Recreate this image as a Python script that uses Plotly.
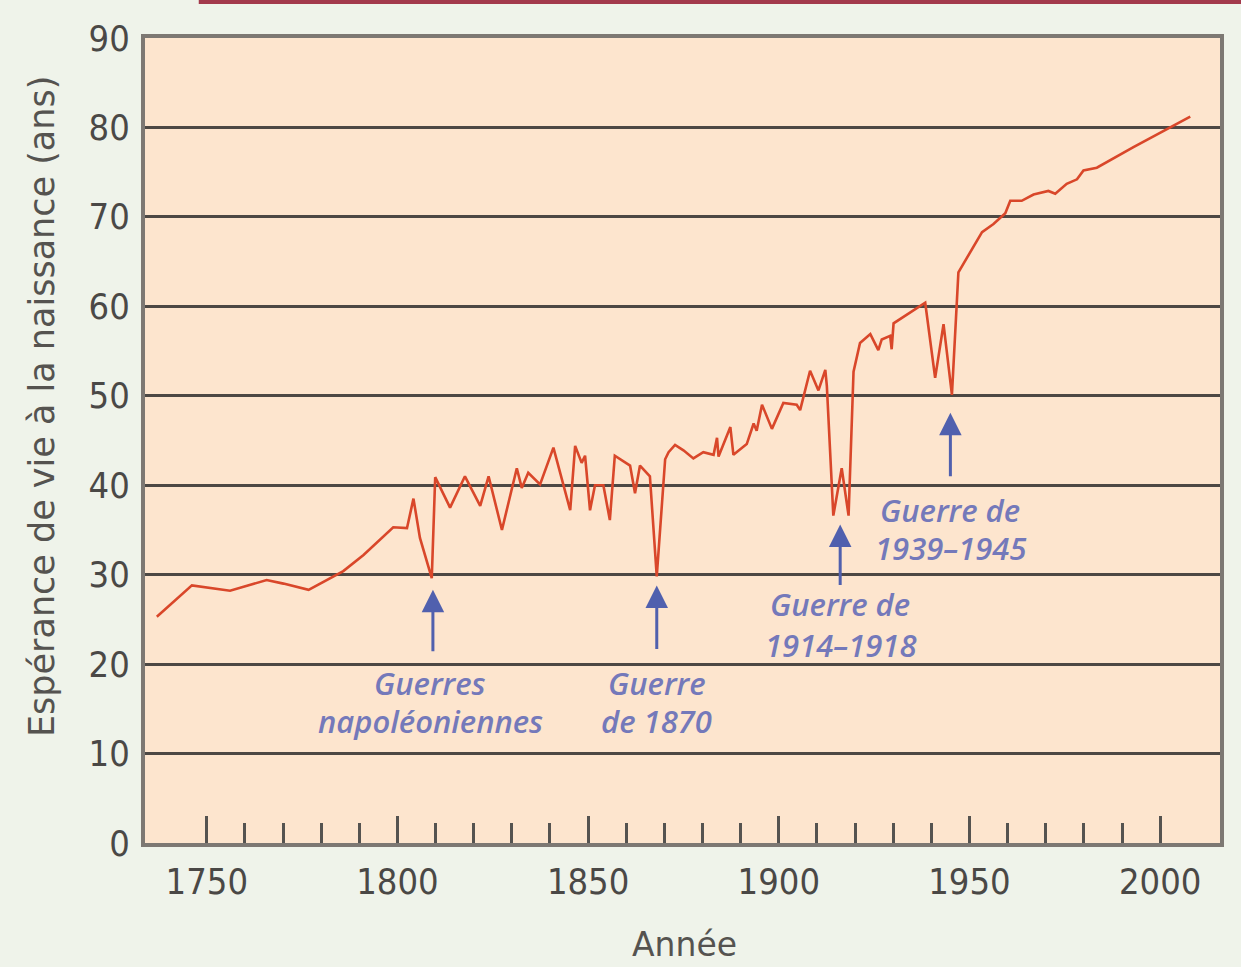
import plotly.graph_objects as go

# ---- data ----
years = [1736.9, 1746.1, 1756.1, 1765.7, 1770.1, 1776.7, 1785.8, 1791.1, 1798.9, 1802.5,
         1804.2, 1805.9, 1809.0, 1809.9, 1813.8, 1817.7, 1821.7, 1823.9, 1827.4, 1831.3,
         1832.6, 1834.3, 1837.4, 1840.9, 1845.3, 1846.6, 1848.3, 1849.2, 1850.5, 1851.8,
         1854.0, 1855.7, 1857.0, 1861.0, 1862.3, 1863.6, 1866.2, 1868.0, 1870.2, 1871.1,
         1872.8, 1875.0, 1877.6, 1880.2, 1882.9, 1883.8, 1884.2, 1887.3, 1888.1, 1891.6,
         1893.4, 1894.2, 1895.6, 1898.2, 1901.2, 1904.7, 1905.6, 1908.2, 1910.4, 1912.2,
         1912.6, 1914.3, 1916.5, 1918.3, 1919.6, 1921.3, 1924.0, 1926.1, 1927.0, 1929.2,
         1929.6, 1930.1, 1938.4, 1941.0, 1943.2, 1945.4, 1947.1, 1949.3, 1953.3, 1956.3,
         1959.4, 1960.7, 1963.7, 1966.8, 1970.7, 1972.5, 1975.5, 1978.2, 1979.9, 1983.4,
         1993.0, 2007.9]
life_expectancy = [25.3, 28.8, 28.2, 29.4, 29.0, 28.3, 30.4, 32.2, 35.3, 35.2,
                   38.5, 34.1, 29.6, 40.9, 37.5, 41.0, 37.7, 41.0, 35.0, 41.9,
                   39.7, 41.4, 40.1, 44.2, 37.2, 44.4, 42.5, 43.3, 37.2, 40.0,
                   40.0, 36.1, 43.3, 42.2, 39.1, 42.2, 41.0, 29.8, 42.9, 43.7,
                   44.5, 43.9, 43.0, 43.7, 43.4, 45.3, 43.2, 46.5, 43.4, 44.6,
                   46.9, 46.1, 49.0, 46.3, 49.2, 49.0, 48.4, 52.8, 50.6, 52.9,
                   51.1, 36.6, 41.9, 36.6, 52.7, 55.9, 56.9, 55.1, 56.3, 56.7,
                   55.2, 58.1, 60.4, 52.0, 58.0, 50.1, 63.8, 65.4, 68.3, 69.2,
                   70.4, 71.8, 71.8, 72.5, 72.9, 72.6, 73.7, 74.2, 75.2, 75.5,
                   77.8, 81.2]

major_ticks = [1750, 1800, 1850, 1900, 1950, 2000]
minor_ticks = [1760, 1770, 1780, 1790, 1810, 1820, 1830, 1840, 1860, 1870, 1880, 1890,
               1910, 1920, 1930, 1940, 1960, 1970, 1980, 1990]
y_ticks = [0, 10, 20, 30, 40, 50, 60, 70, 80, 90]

label_line1 = ["Guerres", "Guerre", "Guerre de", "Guerre de"]
label_line2 = ["napoléoniennes", "de 1870", "1914–1918", "1939–1945"]
label_x = [1808.6, 1868.0, 1916.1, 1945.0]
label_y1 = [17.9, 17.9, 26.7, 37.2]
label_y2 = [13.6, 13.6, 22.1, 33.0]
arrow_x = [1809.3, 1868.0, 1916.1, 1945.0]
arrow_y = [28.3, 28.8, 35.6, 48.1]
arrow_len = [63, 65, 62, 65]

fig = go.Figure()
fig.add_trace(go.Scatter(x=years, y=life_expectancy, mode="lines",
                         line=dict(color="#d9472a", width=2.6), showlegend=False,
                         hoverinfo="skip"))

label_font = dict(family="Open Sans", size=31, color="#7479ba", style="italic", weight=600)
for l1, l2, lx, y1, y2 in zip(label_line1, label_line2, label_x, label_y1, label_y2):
    fig.add_annotation(x=lx, y=y1, xref="x", yref="y", text=l1, showarrow=False,
                       font=label_font, xanchor="center", yanchor="middle")
    fig.add_annotation(x=lx, y=y2, xref="x", yref="y", text=l2, showarrow=False,
                       font=label_font, xanchor="center", yanchor="middle")
for axx, axy, al in zip(arrow_x, arrow_y, arrow_len):
    fig.add_annotation(x=axx, y=axy, xref="x", yref="y", text="", showarrow=True,
                       ax=0, ay=al, arrowhead=2, arrowsize=1.5, arrowwidth=3,
                       arrowcolor="#5060ae")

tick_font = dict(family="DejaVu Sans Condensed, Roboto Condensed, Roboto", size=36,
                 color="#4a4846")
title_font = dict(family="DejaVu Sans", size=33, color="#555350")
ytitle_font = dict(family="DejaVu Sans", size=35, color="#555350")

fig.add_annotation(xref="paper", yref="paper", x=-0.0958, y=0.5416, textangle=-90,
                   text="Espérance de vie à la naissance (ans)", showarrow=False,
                   font=ytitle_font, xanchor="center", yanchor="middle")
fig.add_annotation(xref="paper", yref="paper", x=0.502, y=-0.1267,
                   text="Année", showarrow=False, font=title_font,
                   xanchor="center", yanchor="middle")

fig.add_shape(type="line", xref="paper", yref="paper", x0=0.05, x1=1.02,
              y0=1.0447, y1=1.0447, line=dict(color="#a33a4c", width=4))

fig.update_layout(
    width=1241, height=967,
    margin=dict(l=145, r=21, t=38, b=124),
    paper_bgcolor="#eff3ea", plot_bgcolor="#fde5ce",
    xaxis=dict(range=[1733.8, 2015.7], tickmode="array", tickvals=major_ticks,
               ticktext=[str(v) for v in major_ticks], ticks="inside", ticklen=27,
               tickwidth=3, tickcolor="#555350", tickfont=tick_font,
               ticklabelstandoff=4, showgrid=False, zeroline=False,
               showline=True, linecolor="#7d7873", linewidth=4, mirror=True,
               minor=dict(tickmode="array", tickvals=minor_ticks, ticks="inside",
                          ticklen=20, tickwidth=3, tickcolor="#555350", showgrid=False)),
    yaxis=dict(range=[0, 90], tickmode="array", tickvals=y_ticks, ticks="",
               tickfont=tick_font, showgrid=True, gridcolor="#4d4844", gridwidth=3,
               zeroline=False, showline=True, linecolor="#7d7873", linewidth=4,
               mirror=True, ticklabelstandoff=4),
)

fig.write_html("out.html", config={"displayModeBar": False},
               post_script="document.body.style.margin='0';document.body.style.background='#eff3ea';")
